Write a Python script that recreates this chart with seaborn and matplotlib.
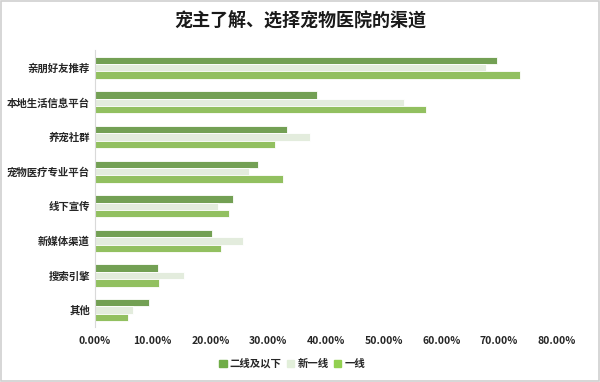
import pandas as pd
import seaborn as sns
import matplotlib.pyplot as plt
from matplotlib.patches import Rectangle
from matplotlib.ticker import PercentFormatter

# data
channels = ['亲朋好友推荐', '本地生活信息平台', '养宠社群', '宠物医疗专业平台',
            '线下宣传', '新媒体渠道', '搜索引擎', '其他']
tier2_below = [69.6, 38.4, 33.2, 28.3, 24.0, 20.3, 10.9, 9.4]
new_tier1 = [67.8, 53.6, 37.2, 26.7, 21.3, 25.6, 15.5, 6.6]
tier1 = [73.6, 57.4, 31.2, 32.6, 23.2, 21.8, 11.1, 5.7]
series = ['二线及以下', '新一线', '一线']
colors = ['#70AD47', '#E2EFDA', '#92D050']

df = pd.concat([
    pd.DataFrame({'channel': channels, 'value': v, 'tier': s})
    for s, v in zip(series, [tier2_below, new_tier1, tier1])
])

sns.set_style("white")
plt.rcParams['font.family'] = ['Noto Sans CJK SC', 'DejaVu Sans']

fig = plt.figure(figsize=(6, 3.82), dpi=100)
ax = fig.add_axes([0.158, 0.143, 0.77, 0.725])

sns.barplot(data=df, y='channel', x='value', hue='tier', hue_order=series,
            palette=colors, order=channels, width=0.64, orient='y',
            edgecolor='white', linewidth=0.6, ax=ax, legend=False)

ax.set_xlim(0, 80)
ax.set_ylim(7.5, -0.5)
ax.set_xticks(range(0, 81, 10))
ax.xaxis.set_major_formatter(PercentFormatter(decimals=2))
ax.set_xlabel('')
ax.set_ylabel('')
ax.tick_params(axis='both', length=0, labelsize=7.5, colors='#262626')
ax.tick_params(axis='x', pad=6)
for lab in ax.get_xticklabels() + ax.get_yticklabels():
    lab.set_fontweight('bold')

for side in ['top', 'right', 'bottom']:
    ax.spines[side].set_visible(False)
ax.spines['left'].set_color('#d9d9d9')
ax.spines['left'].set_linewidth(0.8)

fig.suptitle('宠主了解、选择宠物医院的渠道', x=0.5, y=0.97,
             fontsize=13, fontweight='bold', color='#1a1a1a')

handles = [Rectangle((0, 0), 1, 1, color=c) for c in colors]
fig.legend(handles, series, loc='center', bbox_to_anchor=(0.487, 0.048),
           ncol=3, frameon=False, handlelength=0.7, handleheight=0.7,
           handletextpad=0.3, columnspacing=0.5,
           prop={'size': 7.5, 'weight': 'bold'}, labelcolor='#262626')

# light frame round the chart
fig.patches.append(Rectangle((0.002, 0.003), 0.996, 0.994, transform=fig.transFigure,
                             fill=False, edgecolor='#d0d0d0', linewidth=1.2))

fig.savefig('out.png', dpi=100)
